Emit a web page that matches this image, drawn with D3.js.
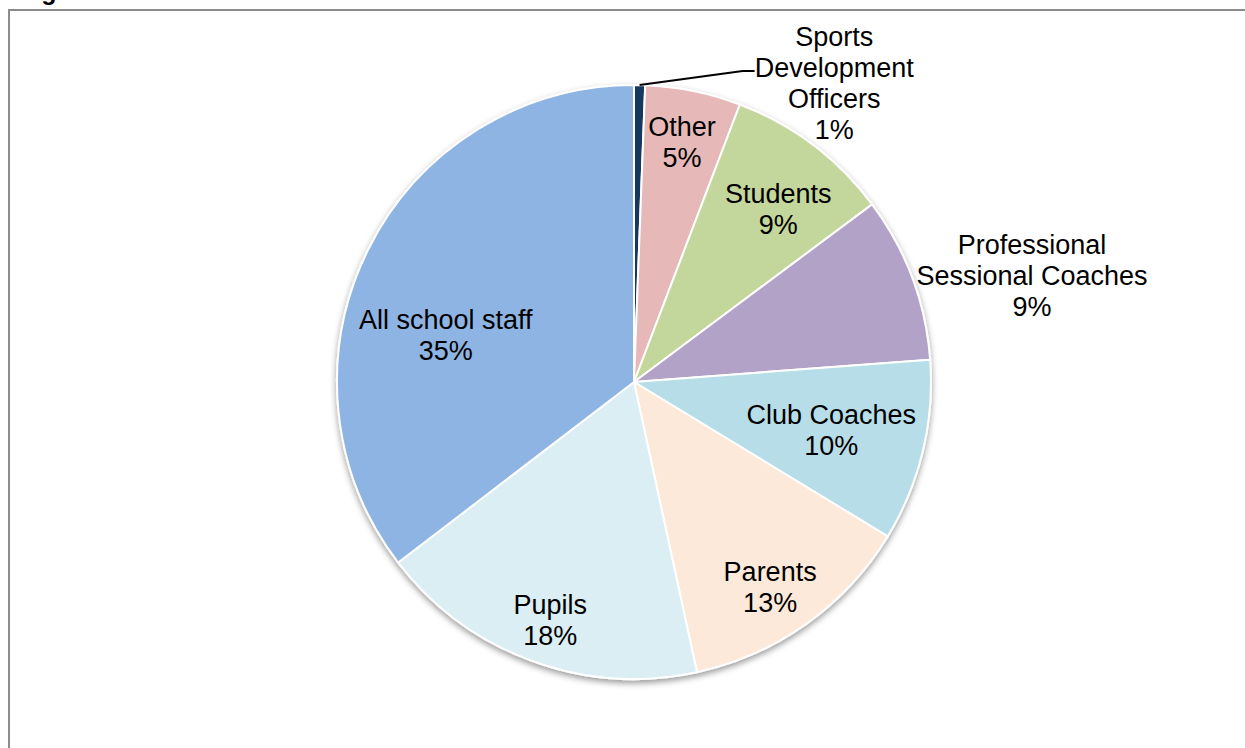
<!DOCTYPE html>
<html>
<head>
<meta charset="utf-8">
<script src="https://cdn.jsdelivr.net/npm/d3@7"></script>
<style>
    html, body { margin: 0; padding: 0; background: #fff; }
    svg { display: block; }
    text { font-family: "Liberation Sans", Arial, sans-serif; fill: #000; }
</style>
</head>
<body>
<div id="chart"></div>
<script>
// chart data, clockwise from 12 o'clock
var categories = ['Sports Development Officers', 'Other', 'Students', 'Professional Sessional Coaches',
        'Club Coaches', 'Parents', 'Pupils', 'All school staff'],
    shares = [0.6, 5.2, 9.0, 9.0, 9.9, 12.9, 18.0, 35.4],
    percentLabels = ['1%', '5%', '9%', '9%', '10%', '13%', '18%', '35%'],
    labelLines = [
        ['Sports', 'Development', 'Officers'],
        ['Other'],
        ['Students'],
        ['Professional', 'Sessional Coaches'],
        ['Club Coaches'],
        ['Parents'],
        ['Pupils'],
        ['All school staff']
    ];

var colors = ['#17375E', '#E6B9B8', '#C3D69B', '#B3A2C7', '#B7DEE8', '#FDE9D9', '#DBEEF4', '#8EB4E3'];

// where Excel put each label: [angle in degrees from 12 o'clock, distance from centre]
var labelPlacement = [
    [33.8, 360],
    [11.3, 245],
    [39.9, 225],
    [75.0, 412],
    [103.6, 203],
    [146.4, 246],
    [199.4, 252],
    [283.9, 194]
];

var width = 1245,
    height = 748,
    cx = 634,
    cy = 382,
    radius = 297,
    lineHeight = 31;

var svg = d3.select('#chart').append('svg')
    .attr('width', width)
    .attr('height', height);

var defs = svg.append('defs');
var shadow = defs.append('filter')
    .attr('id', 'pieShadow')
    .attr('x', '-10%').attr('y', '-10%')
    .attr('width', '120%').attr('height', '120%');
shadow.append('feDropShadow')
    .attr('dx', 0).attr('dy', 3)
    .attr('stdDeviation', 3)
    .attr('flood-color', '#000')
    .attr('flood-opacity', 0.4);

// clipped title of the figure, only the descender peeks in
svg.append('text')
    .attr('x', 19)
    .attr('y', 0)
    .style('font-weight', 'bold')
    .style('font-size', '25px')
    .text('Figure');

// frame running off the right and bottom of the picture
svg.append('rect')
    .attr('x', 9)
    .attr('y', 10)
    .attr('width', width + 20)
    .attr('height', height + 20)
    .attr('fill', 'none')
    .attr('stroke', '#8c8c8c')
    .attr('stroke-width', 2);

var pie = d3.pie().sort(null).value(function (d) { return d; });
var arcs = pie(shares);
var arc = d3.arc().innerRadius(0).outerRadius(radius);

var g = svg.append('g').attr('transform', 'translate(' + cx + ',' + cy + ')');

g.append('g')
    .attr('filter', 'url(#pieShadow)')
    .selectAll('path')
    .data(arcs)
    .enter().append('path')
    .attr('d', arc)
    .attr('fill', function (d, i) { return colors[i]; })
    .attr('stroke', '#fff')
    .attr('stroke-width', 2)
    .attr('stroke-linejoin', 'round');

// leader line for the thin slice
var first = arcs[0],
    midAngle = (first.startAngle + first.endAngle) / 2,
    edgePoint = [radius * Math.sin(midAngle), -radius * Math.cos(midAngle)];
g.append('polyline')
    .attr('points', [edgePoint, [edgePoint[0] + 103, edgePoint[1] - 14], [edgePoint[0] + 115, edgePoint[1] - 14]]
        .map(function (p) { return p.join(','); }).join(' '))
    .attr('fill', 'none')
    .attr('stroke', '#000')
    .attr('stroke-width', 2);

var labels = g.selectAll('text.label')
    .data(arcs)
    .enter().append('text')
    .attr('class', 'label')
    .attr('text-anchor', 'middle')
    .style('font-size', '27px')
    .attr('transform', function (d, i) {
        var a = labelPlacement[i][0] * Math.PI / 180,
            r = labelPlacement[i][1],
            n = labelLines[i].length + 1,
            top = -(n - 1) * lineHeight / 2;
        return 'translate(' + (r * Math.sin(a)) + ',' + (-r * Math.cos(a) + top) + ')';
    });

labels.each(function (d, i) {
    var t = d3.select(this);
    labelLines[i].concat([percentLabels[i]]).forEach(function (line, k) {
        t.append('tspan')
            .attr('x', 0)
            .attr('y', k * lineHeight)
            .attr('dy', '0.35em')
            .text(line);
    });
});
</script>
</body>
</html>
